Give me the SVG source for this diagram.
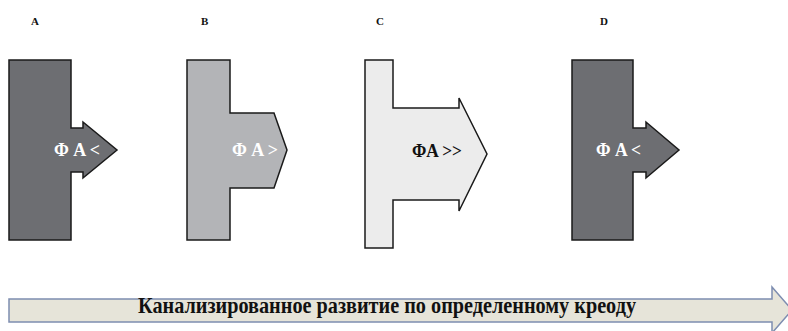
<svg xmlns="http://www.w3.org/2000/svg" width="788" height="331" viewBox="0 0 788 331">
<style>
.shape{stroke:#1a1a1a;stroke-width:1.5;stroke-linejoin:miter}
.lbl{font-family:"Liberation Serif",serif;font-weight:bold;font-size:11px;fill:#111}
.fa{font-family:"Liberation Serif",serif;font-weight:bold;font-size:18px}
</style>
<rect width="788" height="331" fill="#fff"/>
<g id="A">
<text class="lbl" x="31" y="25">A</text>
<path class="shape" fill="#6d6e72" d="M9,60 H71 V128 H83 V122 L117,150 L83,178 V172 H71 V240 H9 Z"/>
<text class="fa" x="54" y="156" fill="#fff" textLength="46" lengthAdjust="spacingAndGlyphs">Φ A &lt;</text>
</g>
<g id="B">
<text class="lbl" x="201" y="25">B</text>
<path class="shape" fill="#b3b4b7" d="M187,60 H230 V113 H274 L287,150 L274,188 H230 V240 H187 Z"/>
<text class="fa" x="232" y="156" fill="#fff" textLength="46" lengthAdjust="spacingAndGlyphs">Φ A &gt;</text>
</g>
<g id="C">
<text class="lbl" x="376" y="25">C</text>
<path class="shape" fill="#ececec" d="M365,60 H393 V108 H459 V98 L487,154 L459,211 V200 H393 V248 H365 Z"/>
<text class="fa" x="412" y="157" fill="#111" textLength="50" lengthAdjust="spacingAndGlyphs">ΦA &gt;&gt;</text>
</g>
<g id="D">
<text class="lbl" x="600" y="25">D</text>
<path class="shape" fill="#6d6e72" d="M572,60 H633 V128 H646 V122 L679,150 L646,178 V172 H633 V240 H572 Z"/>
<text class="fa" x="596" y="156" fill="#fff" textLength="45" lengthAdjust="spacingAndGlyphs">Φ A &lt;</text>
</g>
<g id="connectors">
<path fill="#e6e4d9" stroke="#7d8db0" stroke-width="1.5" d="M9,299 H772 V287 L792,310 L772,333 V322 H9 Z"/>
<text x="138" y="313" font-family="'Liberation Serif',serif" font-weight="bold" font-size="24" fill="#111" textLength="498" lengthAdjust="spacingAndGlyphs">Канализированное развитие по определенному креоду</text>
</g>
</svg>
